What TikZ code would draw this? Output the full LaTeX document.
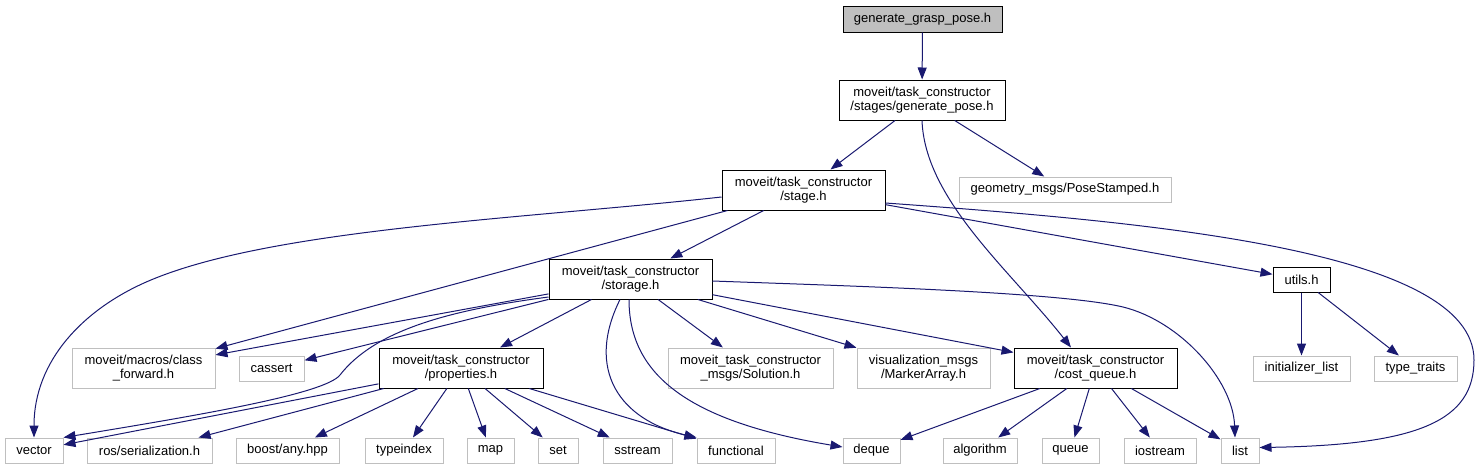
\documentclass[tikz,border=0pt]{standalone}
\usepackage{fontspec}
\setmainfont{Liberation Sans}
\usetikzlibrary{arrows.meta}
\definecolor{edgeblue}{HTML}{191970}
\definecolor{extgray}{HTML}{BFBFBF}

\begin{document}
\begin{tikzpicture}[
    x=1pt, y=-1pt,
    hdr/.style={
        draw=black,
        fill=white,
        line width=1pt,
        minimum height=25pt,
        inner sep=0pt,
        align=center,
        font=\fontsize{13}{14.7}\selectfont,
    },
    dbl/.style={minimum height=40pt},
    sysinc/.style={hdr, draw=extgray},
    rootfile/.style={hdr, fill=extgray, minimum height=26pt},
    incarrow/.style={
        -{Triangle[length=12pt,width=9pt]},
        line width=1pt,
        color=edgeblue,
    },
]
\useasboundingbox (0,0) rectangle (1481,469);

\node[rootfile,minimum width=159pt] (gp) at (922.5,19) {generate\_grasp\_pose.h};
\node[hdr,dbl,minimum width=166pt] (gpose) at (922,100) {moveit/task\_constructor\\/stages/generate\_pose.h};
\node[hdr,dbl,minimum width=163pt] (stg) at (803.5,190) {moveit/task\_constructor\\/stage.h};
\node[sysinc,minimum width=212pt] (pst) at (1065,189.5) {geometry\_msgs/PoseStamped.h};
\node[hdr,dbl,minimum width=163pt] (sto) at (630.5,279) {moveit/task\_constructor\\/storage.h};
\node[hdr,minimum width=57pt] (utl) at (1301.5,279.5) {utils.h};

\node[sysinc,dbl,minimum width=143pt] (cfw) at (143.5,368) {moveit/macros/class\\\_forward.h};
\node[sysinc,minimum width=65pt] (cas) at (271.5,368.5) {cassert};
\node[hdr,dbl,minimum width=164pt] (prp) at (461,368) {moveit/task\_constructor\\/properties.h};
\node[sysinc,dbl,minimum width=165pt] (sol) at (750.5,368) {moveit\_task\_constructor\\\_msgs/Solution.h};
\node[sysinc,dbl,minimum width=133pt] (mrk) at (923.5,368) {visualization\_msgs\\/MarkerArray.h};
\node[hdr,dbl,minimum width=163pt] (cq) at (1095.5,368) {moveit/task\_constructor\\/cost\_queue.h};
\node[sysinc,minimum width=97pt] (ini) at (1301.5,368.5) {initializer\_list};
\node[sysinc,minimum width=83pt] (tt) at (1415.5,368.5) {type\_traits};

\node[sysinc,minimum width=58pt] (vec) at (34,450.5) {vector};
\node[sysinc,minimum width=125pt] (ros) at (149.5,450.5) {ros/serialization.h};
\node[sysinc,minimum width=103pt] (bany) at (287.5,450.5) {boost/any.hpp};
\node[sysinc,minimum width=78pt] (tix) at (404,450.5) {typeindex};
\node[sysinc,minimum width=47pt] (mp) at (490.5,450.5) {map};
\node[sysinc,minimum width=40pt] (st) at (558,450.5) {set};
\node[sysinc,minimum width=69pt] (sst) at (637.5,450.5) {sstream};
\node[sysinc,minimum width=78pt] (fun) at (736,450.5) {functional};
\node[sysinc,minimum width=57pt] (deq) at (871.5,450.5) {deque};
\node[sysinc,minimum width=74pt] (alg) at (980,450.5) {algorithm};
\node[sysinc,minimum width=57pt] (que) at (1070.5,450.5) {queue};
\node[sysinc,minimum width=72pt] (ios) at (1160,450.5) {iostream};
\node[sysinc,minimum width=38pt] (lst) at (1240,450.5) {list};

\draw[incarrow] (gp) -- (gpose);
\draw[incarrow] (gpose) -- (stg);
\draw[incarrow] (gpose) -- (pst);
\draw[incarrow] (gpose.south) .. controls (925,200) and (1010,270) .. ([xshift=-24.5pt]cq.north);

\draw[incarrow] ([yshift=-7pt]stg.west) .. controls (522,219) and (264,229) .. (144,283) .. controls (84,310) and (34,360) .. (vec.north);
\draw[incarrow] (stg) -- (cfw);
\draw[incarrow] (stg) -- (sto);
\draw[incarrow] (stg) -- (utl);
\draw[incarrow] ([yshift=-13pt]stg.east) .. controls (1150,222) and (1474,250) .. (1474,360) .. controls (1474,420) and (1420,445) .. ([yshift=3pt]lst.east);

\draw[incarrow] (sto) -- (cfw);
\draw[incarrow] (sto) -- (cas);
\draw[incarrow] ([yshift=-18pt]sto.west) .. controls (450,310) and (375,330) .. (340,375) .. controls (325,394) and (200,415) .. (vec.north east);
\draw[incarrow] (sto) -- (prp);
\draw[incarrow] ([xshift=-10.5pt]sto.south) .. controls (585,370) and (620,420) .. (fun.north west);
\draw[incarrow] ([xshift=-1.5pt]sto.south) .. controls (629,370) and (680,420) .. ([yshift=3.5pt]deq.west);
\draw[incarrow] (sto) -- (sol);
\draw[incarrow] (sto) -- (mrk);
\draw[incarrow] (sto) -- (cq);
\draw[incarrow] ([yshift=-2pt]sto.east) .. controls (850,286) and (1060,292) .. (1123,307) .. controls (1180,321) and (1233,380) .. ([xshift=-5pt]lst.north);

\draw[incarrow] (prp) -- (vec);
\draw[incarrow] (prp) -- (ros);
\draw[incarrow] (prp) -- (bany);
\draw[incarrow] (prp) -- (tix);
\draw[incarrow] (prp) -- (mp);
\draw[incarrow] (prp) -- (st);
\draw[incarrow] (prp) -- (sst);
\draw[incarrow] (prp) -- (fun);

\draw[incarrow] (cq) -- (deq);
\draw[incarrow] (cq) -- (alg);
\draw[incarrow] (cq) -- (que);
\draw[incarrow] (cq) -- (ios);
\draw[incarrow] (cq) -- (lst);

\draw[incarrow] (utl) -- (ini);
\draw[incarrow] (utl) -- (tt);
\end{tikzpicture}
\end{document}
